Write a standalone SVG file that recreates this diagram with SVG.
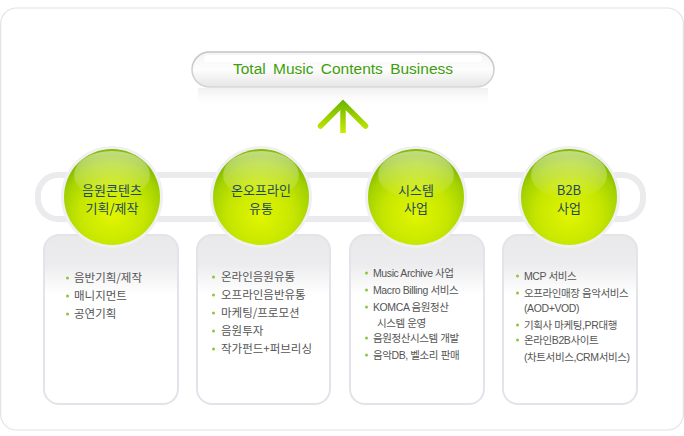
<svg xmlns="http://www.w3.org/2000/svg" width="684" height="436" viewBox="0 0 684 436">
<defs>
<linearGradient id="pillG" x1="0" y1="0" x2="0" y2="1">
<stop offset="0" stop-color="#f4f4f4"/>
<stop offset="0.5" stop-color="#fdfdfd"/>
<stop offset="1" stop-color="#e6e6e6"/>
</linearGradient>
<linearGradient id="pillS" x1="0" y1="0" x2="0" y2="1">
<stop offset="0" stop-color="#c4c4c4"/>
<stop offset="1" stop-color="#d6d6d6"/>
</linearGradient>
<linearGradient id="reflG" x1="0" y1="0" x2="0" y2="1">
<stop offset="0" stop-color="#eeeeee" stop-opacity="0.9"/>
<stop offset="1" stop-color="#ffffff" stop-opacity="0"/>
</linearGradient>
<linearGradient id="arrowG" gradientUnits="userSpaceOnUse" x1="0" y1="101" x2="0" y2="134">
<stop offset="0" stop-color="#6cb600"/>
<stop offset="1" stop-color="#cdec00"/>
</linearGradient>
<radialGradient id="ballG" cx="0.5" cy="0.68" r="0.62">
<stop offset="0" stop-color="#e2f600"/>
<stop offset="0.55" stop-color="#c6e600"/>
<stop offset="0.85" stop-color="#a4d200"/>
<stop offset="1" stop-color="#86bc00"/>
</radialGradient>
<linearGradient id="glossG" x1="0" y1="0" x2="0" y2="1">
<stop offset="0" stop-color="#ffffff" stop-opacity="0.5"/>
<stop offset="1" stop-color="#ffffff" stop-opacity="0"/>
</linearGradient>
<linearGradient id="cardG" x1="0" y1="0" x2="0" y2="1">
<stop offset="0" stop-color="#e9e9ea"/>
<stop offset="0.17" stop-color="#ececee"/>
<stop offset="0.35" stop-color="#ffffff"/>
<stop offset="1" stop-color="#ffffff"/>
</linearGradient>
</defs>
<style>
.frame{fill:#ffffff;stroke:#e2e2ea;stroke-width:1.2}
.band{fill:none;stroke:#ebebee;stroke-width:6}
.ring{fill:#f0f0f2}
.ball{fill:url(#ballG)}
.gloss{fill:url(#glossG)}
.btxt{font-family:"Noto Sans CJK KR","Liberation Sans",sans-serif;font-size:13px;fill:#1f4b5c;text-anchor:middle}
.card{fill:url(#cardG);stroke:#e3e3ea;stroke-width:2}
.dot{fill:#8cc63f}
.li{font-family:"Noto Sans CJK KR","Liberation Sans",sans-serif;font-size:11.5px;fill:#555555}
.ls{font-family:"Liberation Sans","Noto Sans CJK KR",sans-serif;font-size:10.5px;fill:#555555;letter-spacing:-0.4px}
.title{font-family:"Liberation Sans","Noto Sans CJK KR",sans-serif;font-size:15.5px;fill:#3f9e0c;text-anchor:middle;word-spacing:3px}
.arrow{fill:none;stroke:url(#arrowG);stroke-width:5.5}
</style>

<rect class="frame" x="0.6" y="8" width="682.8" height="422" rx="16"/>

<g id="total">
<rect x="198" y="88" width="290" height="20" fill="url(#reflG)"/>
<rect x="192" y="52" width="302" height="35" rx="17.5" fill="url(#pillG)" stroke="url(#pillS)" stroke-width="1.5"/>
<rect x="204" y="55" width="278" height="7" rx="3.5" fill="#ffffff" opacity="0.9"/>
<text class="title" x="343" y="74">Total Music Contents Business</text>
</g>

<g id="connectors">
<rect class="band" x="38" y="175" width="605" height="44" rx="20"/>
<path class="arrow" d="M320.5 126 L343 103.5 L365.5 126" stroke-linecap="round"/>
<path class="arrow" d="M343 104 L343 133"/>
</g>

<g id="card1">
<rect class="card" x="44" y="235" width="134" height="169" rx="15"/>
<circle class="dot" cx="67.5" cy="278" r="1.5"/><text class="li" x="74" y="282">음반기획/제작</text>
<circle class="dot" cx="67.5" cy="296" r="1.5"/><text class="li" x="74" y="300">매니지먼트</text>
<circle class="dot" cx="67.5" cy="314" r="1.5"/><text class="li" x="74" y="318">공연기획</text>
</g>
<g id="card2">
<rect class="card" x="197" y="235" width="133" height="169" rx="15"/>
<circle class="dot" cx="213.5" cy="277" r="1.5"/><text class="li" x="221" y="281">온라인음원유통</text>
<circle class="dot" cx="213.5" cy="295" r="1.5"/><text class="li" x="221" y="299">오프라인음반유통</text>
<circle class="dot" cx="213.5" cy="313" r="1.5"/><text class="li" x="221" y="317">마케팅/프로모션</text>
<circle class="dot" cx="213.5" cy="331" r="1.5"/><text class="li" x="221" y="335">음원투자</text>
<circle class="dot" cx="213.5" cy="349" r="1.5"/><text class="li" x="221" y="353">작가펀드+퍼브리싱</text>
</g>
<g id="card3">
<rect class="card" x="350" y="235" width="134" height="169" rx="15"/>
<circle class="dot" cx="366.5" cy="273" r="1.5"/><text class="ls" x="373" y="277">Music Archive 사업</text>
<circle class="dot" cx="366.5" cy="290" r="1.5"/><text class="ls" x="373" y="294">Macro Billing 서비스</text>
<circle class="dot" cx="366.5" cy="307" r="1.5"/><text class="ls" x="373" y="311">KOMCA 음원정산</text>
<text class="ls" x="377" y="327">시스템 운영</text>
<circle class="dot" cx="366.5" cy="338" r="1.5"/><text class="ls" x="373" y="342">음원정산시스템 개발</text>
<circle class="dot" cx="366.5" cy="355" r="1.5"/><text class="ls" x="373" y="359">음악DB, 벨소리 판매</text>
</g>
<g id="card4">
<rect class="card" x="503" y="235" width="134" height="169" rx="15"/>
<circle class="dot" cx="517.5" cy="276" r="1.5"/><text class="ls" x="524" y="280">MCP 서비스</text>
<circle class="dot" cx="517.5" cy="293" r="1.5"/><text class="ls" x="524" y="297">오프라인매장 음악서비스</text>
<text class="ls" x="524" y="312">(AOD+VOD)</text>
<circle class="dot" cx="517.5" cy="325" r="1.5"/><text class="ls" x="524" y="329">기획사 마케팅,PR대행</text>
<circle class="dot" cx="517.5" cy="340" r="1.5"/><text class="ls" x="524" y="344">온라인B2B사이트</text>
<text class="ls" x="524" y="361">(차트서비스,CRM서비스)</text>
</g>

<g id="node1">
<circle class="ring" cx="112" cy="197" r="51"/>
<circle class="ball" cx="112" cy="197" r="48"/>
<ellipse class="gloss" cx="112" cy="175" rx="38" ry="24"/>
<text class="btxt" x="112" y="195">음원콘텐츠</text>
<text class="btxt" x="112" y="213">기획/제작</text>
</g>
<g id="node2">
<circle class="ring" cx="261" cy="197" r="51"/>
<circle class="ball" cx="261" cy="197" r="48"/>
<ellipse class="gloss" cx="261" cy="175" rx="38" ry="24"/>
<text class="btxt" x="261" y="195">온오프라인</text>
<text class="btxt" x="261" y="213">유통</text>
</g>
<g id="node3">
<circle class="ring" cx="416" cy="197" r="51"/>
<circle class="ball" cx="416" cy="197" r="48"/>
<ellipse class="gloss" cx="416" cy="175" rx="38" ry="24"/>
<text class="btxt" x="416" y="195">시스템</text>
<text class="btxt" x="416" y="213">사업</text>
</g>
<g id="node4">
<circle class="ring" cx="569" cy="197" r="51"/>
<circle class="ball" cx="569" cy="197" r="48"/>
<ellipse class="gloss" cx="569" cy="175" rx="38" ry="24"/>
<text class="btxt" x="569" y="195">B2B</text>
<text class="btxt" x="569" y="213">사업</text>
</g>
</svg>
